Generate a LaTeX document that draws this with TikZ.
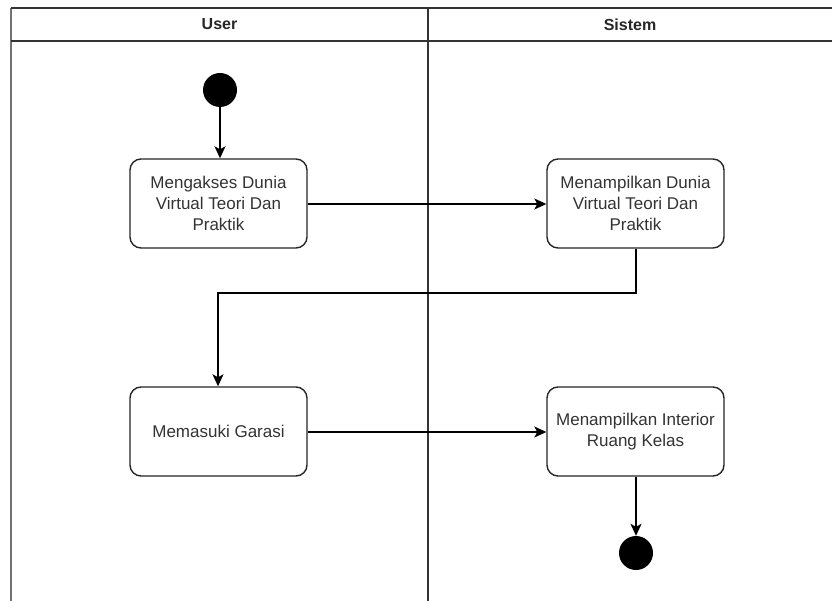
\documentclass[tikz,border=0pt]{standalone}
\usepackage{fontspec}
\setmainfont{Liberation Sans}
\usetikzlibrary{arrows.meta}
\begin{document}
\begin{tikzpicture}[x=1pt,y=-1pt,
  act/.style={draw=black!85, line width=1.4pt, rounded corners=11pt, minimum width=177pt, minimum height=89pt, align=center, text=black!80, font=\fontsize{17}{21}\selectfont, inner sep=2pt},
  dot/.style={circle, fill=black, minimum size=34pt, inner sep=0pt},
  flow/.style={draw=black, line width=1.4pt, -{Stealth[length=12pt,width=11pt,inset=3pt]}},
  hdr/.style={font=\fontsize{16}{19}\bfseries\selectfont, text=black!85}]
\useasboundingbox (0,0) rectangle (832,601);
\fill[white] (0,0) rectangle (832,601);
% swimlane frame
\draw[black!55, line width=1.6pt] (11,8) -- (11,601);
\draw[black!80, line width=1.5pt] (11,8) -- (832,8);
\draw[black!80, line width=1.5pt] (11,41) -- (832,41);
\draw[black!80, line width=2.2pt] (428,8) -- (428,601);
\node[hdr] (u) at (219.5,24.5) {User};
\node[hdr] (s) at (630,24.5) {Sistem};
% nodes
\node[dot] (start) at (220,90) {};
\node[act] (a1) at (218.5,203.5) {Mengakses Dunia\\Virtual Teori Dan\\Praktik};
\node[act] (a2) at (635.5,203.5) {Menampilkan Dunia\\Virtual Teori Dan\\Praktik};
\node[act] (a3) at (218.5,431.5) {Memasuki Garasi};
\node[act] (a4) at (635.5,431.5) {Menampilkan Interior\\Ruang Kelas};
\node[dot] (end) at (636,553) {};
% flows
\draw[flow] (start) -- (a1.north -| start);
\draw[flow] (a1.east |- 0,204) -- (a2.west |- 0,204);
\draw[flow] (a2.south -| end) -- (636,293) -- (218,293) -- (a3.north -| 218,0);
\draw[flow] (a3.east |- 0,432) -- (a4.west |- 0,432);
\draw[flow] (a4.south -| end) -- (end);
\end{tikzpicture}
\end{document}
